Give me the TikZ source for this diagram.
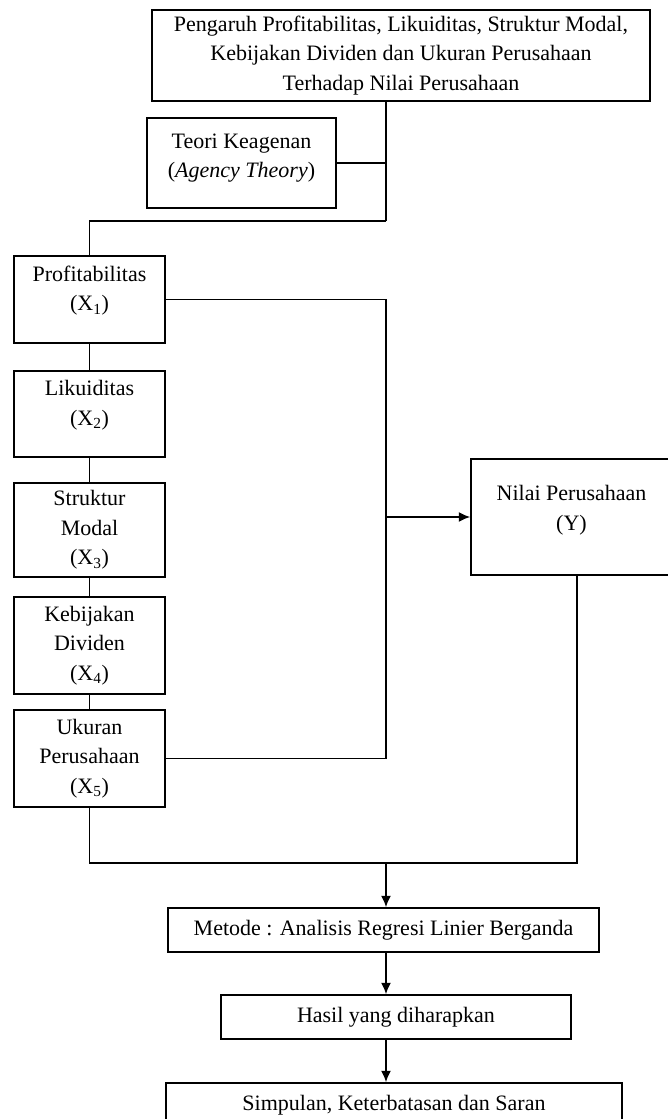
\documentclass[tikz,border=0pt]{standalone}
\usepackage{fontspec}
\setmainfont{Liberation Serif}
\usetikzlibrary{arrows.meta}
\begin{document}
\begin{tikzpicture}[x = 0.75pt, y = -0.75pt,
		txt/.style = {align = center, inner sep = 0pt, font = \fontsize{16.5}{22}\selectfont},
		box/.style = {txt, draw, line width = 1.2pt},
		leftbox/.style = {box, minimum width = 113.25pt},
		line/.style = {line width = 1.2pt},
		arr/.style = {line, -{Latex[length = 8.5pt, width = 7.5pt]}}]
		\useasboundingbox (0, 0) rectangle (667, 1119);
		%%%%%%%%%%%%%
		\node[box, minimum width = 373.5pt, minimum height = 68.25pt] (title) at (401, 55.5) {Pengaruh Profitabilitas, Likuiditas, Struktur Modal,\\Kebijakan Dividen dan Ukuran Perusahaan\\Terhadap Nilai Perusahaan};
		\node[box, minimum width = 141.75pt, minimum height = 67.5pt, label = {[txt, yshift = 3.5pt]center:Teori Keagenan\\(\textit{Agency Theory})}] (teori) at (241.5, 163) {};
		\node[leftbox, minimum height = 65.25pt, label = {[txt, yshift = 6.5pt]center:Profitabilitas\\(X\textsubscript{1})}] (profit) at (89.5, 299.5) {};
		\node[leftbox, minimum height = 64.5pt, label = {[txt, yshift = 6.5pt]center:Likuiditas\\(X\textsubscript{2})}] (likuid) at (89.5, 414) {};
		\node[leftbox, minimum height = 70.5pt] (struktur) at (89.5, 530) {Struktur\\Modal\\(X\textsubscript{3})};
		\node[leftbox, minimum height = 72.75pt] (kebijakan) at (89.5, 645.5) {Kebijakan\\Dividen\\(X\textsubscript{4})};
		\node[leftbox, minimum height = 72.75pt] (ukuran) at (89.5, 758.5) {Ukuran\\Perusahaan\\(X\textsubscript{5})};
		\node[box, minimum width = 150.75pt, minimum height = 87pt, label = {[txt, yshift = 5pt]center:Nilai Perusahaan\\(Y)}] (nilai) at (571.5, 517) {};
		\node[box, minimum width = 323.25pt, minimum height = 33pt] (metode) at (383.5, 930) {Metode : Analisis Regresi Linier Berganda};
		\node[box, minimum width = 262.5pt, minimum height = 33pt] (hasil) at (396, 1017) {Hasil yang diharapkan};
		\node[box, minimum width = 342pt, minimum height = 33pt] (simpulan) at (394, 1105) {Simpulan, Keterbatasan dan Saran};
		%%%%%%%%%%%%%
		\coordinate (bus) at (386, 221);
		\coordinate (low) at (386, 863);
		%%%%%%%%%%%%%
		\draw [line] (title.south -| bus) to (bus);
		\draw [line] (teori.east) to (teori.east -| bus);
		\draw [line] (bus) -| (profit.north);
		\draw [line] (profit) to (likuid);
		\draw [line] (likuid) to (struktur);
		\draw [line] (struktur) to (kebijakan);
		\draw [line] (kebijakan) to (ukuran);
		\draw [line] (profit.east) -| (bus |- ukuran.east) to (ukuran.east);
		\draw [arr] (bus |- nilai.west) to (nilai.west);
		\draw [line] (ukuran.south) |- (low) -| ([xshift = 4pt]nilai.south);
		\draw [arr] (low) to (metode.north -| low);
		\draw [arr] (metode.south -| low) to (hasil.north -| low);
		\draw [arr] (hasil.south -| low) to (simpulan.north -| low);
		%%%%%%%%%%%%%%
	\end{tikzpicture}
\end{document}
